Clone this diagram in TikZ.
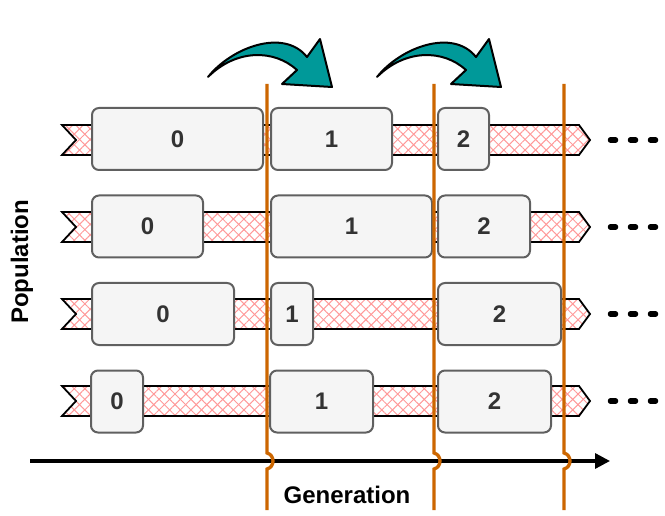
\documentclass[tikz,border=0pt]{standalone}
\usepackage{fontspec}
\setmainfont{Liberation Sans}
\usetikzlibrary{arrows.meta,patterns.meta}

\definecolor{boxfill}{HTML}{F5F5F5}
\definecolor{boxline}{HTML}{606060}
\definecolor{hatch}{HTML}{FF9999}
\definecolor{gen}{HTML}{CC6600}
\definecolor{teal}{HTML}{009999}
\definecolor{txt}{HTML}{333333}

\tikzset{
  cell/.style={draw=boxline, fill=boxfill, line width=2pt, rounded corners=7pt,
    minimum height=62pt, inner sep=0pt, text=txt,
    font=\fontsize{24}{28}\selectfont\bfseries},
  band/.style={draw=black, line width=1.8pt,
    preaction={pattern={Lines[angle=45,distance=7.5pt,line width=1pt]}, pattern color=hatch},
    pattern={Lines[angle=-45,distance=7.5pt,line width=1pt]}, pattern color=hatch},
  genline/.style={draw=gen, line width=3.3pt},
  axis/.style={draw=black, line width=3.3pt, -{Triangle[length=15pt,width=15pt]}},
  label/.style={font=\fontsize{24}{28}\selectfont\bfseries},
  more/.style={line width=5.5pt, line cap=round, dash pattern=on 5pt off 15pt},
  jump/.style={draw=black, fill=teal, line width=2pt, line join=round}
}

\begin{document}
\begin{tikzpicture}[x=1pt, y=-1pt]
  \useasboundingbox (0,0) rectangle (665,516);

  % Bands
  \foreach \c in {140,227,314,401} {
    \draw[band] (62,\c-15) -- (579,\c-15) -- (590,\c) -- (579,\c+15)
      -- (62,\c+15) -- (76,\c) -- cycle;
    \draw[more] (610.5,\c) -- (660,\c);
  }

  % Nodes
  \node[cell, minimum width=171pt] (p1g0) at (177.5,139) {0};
  \node[cell, minimum width=121pt] (p1g1) at (331.5,139) {1};
  \node[cell, minimum width=51pt]  (p1g2) at (463.5,139) {2};

  \node[cell, minimum width=111pt] (p2g0) at (147.5,226.5) {0};
  \node[cell, minimum width=161pt] (p2g1) at (351.5,226.5) {1};
  \node[cell, minimum width=92pt]  (p2g2) at (484,226.5) {2};

  \node[cell, minimum width=142pt] (p3g0) at (163,314) {0};
  \node[cell, minimum width=42pt]  (p3g1) at (292,314) {1};
  \node[cell, minimum width=123pt] (p3g2) at (499.5,314) {2};

  \node[cell, minimum width=52pt]  (p4g0) at (117,401.5) {0};
  \node[cell, minimum width=103pt] (p4g1) at (321.5,401.5) {1};
  \node[cell, minimum width=113pt] (p4g2) at (494.5,401.5) {2};

  \node[label] (gen) at (347,495) {Generation};
  \node[label, rotate=90] (pop) at (22,262) {Population};

  % Axis
  \coordinate (ax0) at (30,461);
  \coordinate (ax1) at (610,461);
  \draw[axis] (ax0) -- (ax1);

  % Generation borders
  \foreach \x in {267,434,564} {
    \draw[genline] (\x,84) -- (\x,453) .. controls (\x+8,455) and (\x+8,467)
      .. (\x,469) -- (\x,510);
  }

  % Arrows
  \foreach \d in {0,169} {
    \draw[jump, xshift=\d] (208,77) .. controls (232,47) and (284,28) .. (307,57)
      -- (320,39) -- (332,87) -- (282,84) -- (297,70)
      .. controls (274,49) and (236,49) .. (208,77) -- cycle;
  }
\end{tikzpicture}
\end{document}
